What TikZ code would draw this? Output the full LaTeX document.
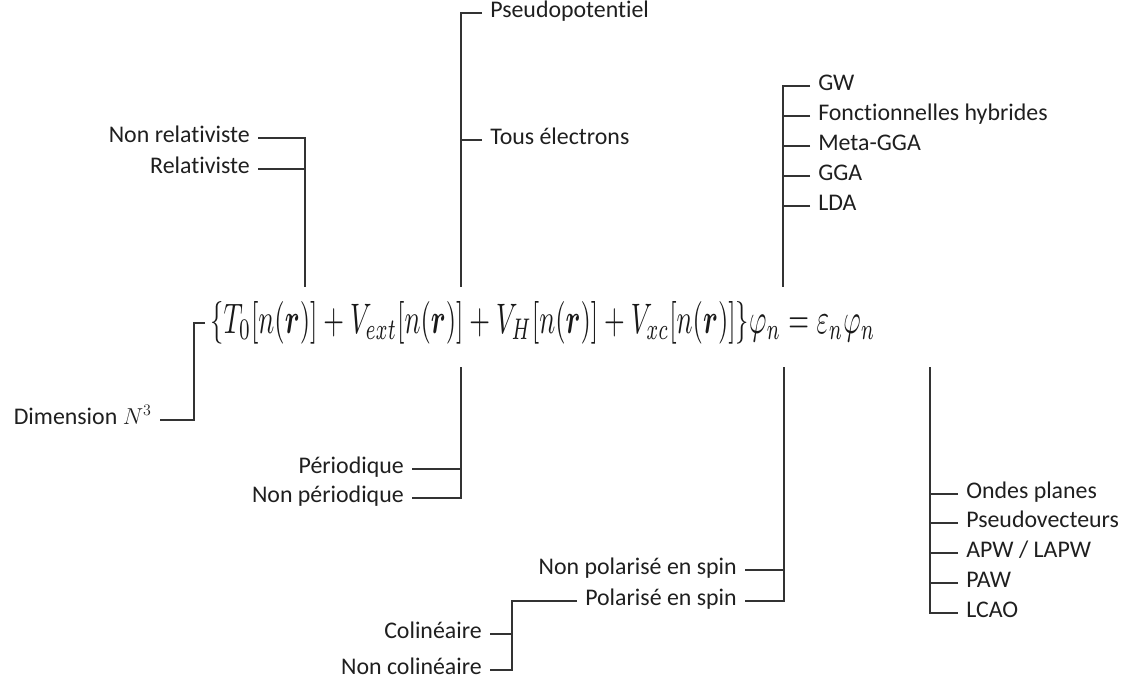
\documentclass[tikz,border=0pt]{standalone}
\usepackage{amsmath}
\usepackage{graphicx}
\usepackage[no-math]{fontspec}
\setmainfont{Carlito}[Ligatures=NoCommon]
\begin{document}
\begin{tikzpicture}[x=0.75pt,y=-0.75pt,
  lbl/.style={inner xsep=6pt, inner ysep=0pt, text height=0.64em, text depth=0pt,
              font=\fontsize{17.9pt}{21pt}\selectfont, text=black!88},
  wire/.style={line width=0.8pt, draw=black!80}]
\useasboundingbox (0,0) rectangle (1124,683);
% equation
\node[anchor=base west, inner sep=0pt, text=black!90] (eq) at (210,333)
  {\resizebox{498.75pt}{24pt}{$\{T_0[n(\boldsymbol{r})]+V_{ext}[n(\boldsymbol{r})]+V_H[n(\boldsymbol{r})]+V_{xc}[n(\boldsymbol{r})]\}\varphi_n=\varepsilon_n\varphi_n$}};
% trunk ends near equation
\coordinate (aB) at (305,287);
\coordinate (bB) at (461,287);
\coordinate (cB) at (783,287);
\coordinate (dT) at (205,323);
\coordinate (dC) at (194,323);
\coordinate (pT) at (461,367);
\coordinate (eT) at (784,367);
\coordinate (fT) at (930,367);
\coordinate (sC) at (512,601);
% T0 branch
\node[lbl,anchor=east] (nrel) at (258,138) {Non relativiste};
\node[lbl,anchor=east] (rel)  at (258,169) {Relativiste};
\draw[wire] (nrel.east) -| (aB);
\draw[wire] (rel.east) -- (rel.east -| aB);
% Vext top branch
\node[lbl,anchor=west] (pp)  at (482,13)  {Pseudopotentiel};
\node[lbl,anchor=west] (tel) at (482,140) {Tous électrons};
\draw[wire] (pp.west) -| (bB);
\draw[wire] (tel.west) -- (tel.west -| bB);
% Vxc top branch
\node[lbl,anchor=west] (gw)  at (810,86)  {GW};
\node[lbl,anchor=west] (hyb) at (810,116) {Fonctionnelles hybrides};
\node[lbl,anchor=west] (mgga) at (810,146) {Meta-GGA};
\node[lbl,anchor=west] (gga) at (810,176) {GGA};
\node[lbl,anchor=west] (lda) at (810,206) {LDA};
\draw[wire] (gw.west) -| (cB);
\foreach \n in {hyb,mgga,gga,lda} \draw[wire] (\n.west) -- (\n.west -| cB);
% Dimension
\node[lbl,anchor=east] (dim) at (160,420) {Dimension $N^3$};
\draw[wire] (dT) -- (dC) |- (dim.east);
% Vext bottom branch
\node[lbl,anchor=east] (per)  at (412,469) {Périodique};
\node[lbl,anchor=east] (nper) at (412,498) {Non périodique};
\draw[wire] (pT) |- (nper.east);
\draw[wire] (per.east) -- (per.east -| pT);
% Vxc bottom branch
\node[lbl,anchor=east] (npol) at (745,570) {Non polarisé en spin};
\node[lbl,anchor=east] (pol)  at (745,601) {Polarisé en spin};
\draw[wire] (eT) |- (pol.east);
\draw[wire] (npol.east) -- (npol.east -| eT);
\node[lbl,anchor=east] (col)  at (490,634) {Colinéaire};
\node[lbl,anchor=east] (ncol) at (490,670) {Non colinéaire};
\draw[wire] (pol.west) -- (sC) |- (ncol.east);
\draw[wire] (col.east) -- (col.east -| sC);
% phi_n bottom branch
\node[lbl,anchor=west] (op)   at (958,494) {Ondes planes};
\node[lbl,anchor=west] (psv)  at (958,523) {Pseudovecteurs};
\node[lbl,anchor=west] (apw)  at (958,553) {APW / LAPW};
\node[lbl,anchor=west] (paw)  at (958,583) {PAW};
\node[lbl,anchor=west] (lcao) at (958,613) {LCAO};
\draw[wire] (fT) |- (lcao.west);
\foreach \n in {op,psv,apw,paw} \draw[wire] (\n.west) -- (\n.west -| fT);
\end{tikzpicture}
\end{document}
